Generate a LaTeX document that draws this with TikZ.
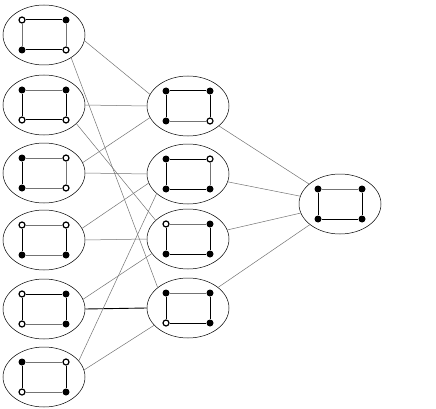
\documentclass[tikz,border=0pt]{standalone}
\usetikzlibrary{shapes.geometric}
\definecolor{wiregray}{gray}{0.45}
\tikzset{%
    full/.style={circle,fill,inner sep=0pt,minimum size=7pt},
    hole/.style={circle,draw,fill=white,line width=1.2pt,inner sep=0pt,minimum size=6pt},
    bold/.style={line width=1pt},
    faint/.style={line width=0.6pt,wiregray},
    cell/.style={ellipse,draw,line width=0.5pt,minimum width=82pt,minimum height=60pt},
    link/.style={wiregray,line width=0.5pt},
    pics/plaq/.style n args={9}{code={%
            % ellipse
            \node[cell] (#1) {};
            % corners
            \node[#6] (#1a) at (-22,-15) {};
            \node[#7] (#1b) at (22,-15) {};
            \node[#8] (#1c) at (-22,15) {};
            \node[#9] (#1d) at (22,15) {};
            % edges
            \draw[#2] (#1a) -- (#1b);
            \draw[#3] (#1b) -- (#1d);
            \draw[#4] (#1c) -- (#1d);
            \draw[#5] (#1a) -- (#1c);
        }},
}

\begin{document}
\begin{tikzpicture}[x=1pt,y=-1pt]
    \useasboundingbox (0,0) rectangle (436,409);

    % left column
    \pic at (44,35)  {plaq={L1}{bold}{faint}{bold}{faint}{hole}{full}{full}{hole}};
    \pic at (44,105) {plaq={L2}{faint}{bold}{bold}{bold}{full}{full}{hole}{hole}};
    \pic at (44,173) {plaq={L3}{faint}{faint}{faint}{bold}{full}{hole}{full}{hole}};
    \pic at (44,240) {plaq={L4}{faint}{bold}{faint}{bold}{hole}{hole}{full}{full}};
    \pic at (44,309) {plaq={L5}{bold}{bold}{faint}{bold}{hole}{full}{hole}{full}};
    \pic at (44,377) {plaq={L6}{faint}{bold}{faint}{bold}{full}{hole}{hole}{full}};

    % middle column
    \pic at (188,106) {plaq={M1}{bold}{bold}{faint}{bold}{full}{full}{full}{hole}};
    \pic at (188,174) {plaq={M2}{bold}{faint}{bold}{bold}{full}{hole}{full}{full}};
    \pic at (188,239) {plaq={M3}{faint}{bold}{bold}{bold}{hole}{full}{full}{full}};
    \pic at (188,308) {plaq={M4}{faint}{bold}{bold}{bold}{full}{full}{hole}{full}};

    % right
    \pic at (340,204) {plaq={R}{faint}{bold}{bold}{bold}{full}{full}{full}{full}};

    % links left-middle
    \draw[link] (L1.-8) -- (M1.163);
    \draw[link] (L1.-40) -- (M4.146);
    \draw[link] (L2.east) -- (M1.west);
    \draw[link] (L2.-30) -- (M3.150);
    \draw[link] (L3.15) -- (M1.197);
    \draw[link] (L3.east) -- (M2.west);
    \draw[link] (L4.17) -- (M2.193);
    \draw[link] (L4.east) -- (M3.west);
    \draw[link] (L5.14) -- (M3.202);
    \draw[link,line width=0.9pt,black] (L5.east) -- (M4.west);
    \draw[link] (L6.25) -- (M2.212);
    \draw[link] (L6.10) -- (M4.207);

    % links middle-right
    \draw[link] (M1) -- (R);
    \draw[link] (M2) -- (R);
    \draw[link] (M3) -- (R);
    \draw[link] (M4) -- (R);
\end{tikzpicture}
\end{document}
